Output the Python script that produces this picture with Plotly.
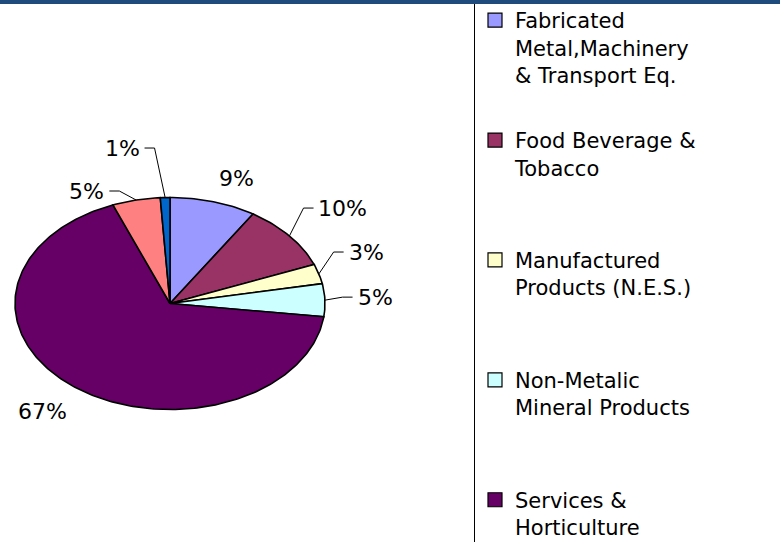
import numpy as np
import plotly.graph_objects as go

# ---------------- data ----------------
categories = [
    "Fabricated Metal,Machinery & Transport Eq.",
    "Food Beverage & Tobacco",
    "Manufactured Products (N.E.S.)",
    "Non-Metalic Mineral Products",
    "Services & Horticulture",
    "Other sector (legend cut off) A",
    "Other sector (legend cut off) B",
]
legend_labels = [
    "Fabricated<br>Metal,Machinery<br>& Transport Eq.",
    "Food Beverage &<br>Tobacco",
    "Manufactured<br>Products (N.E.S.)",
    "Non-Metalic<br>Mineral Products",
    "Services &<br>Horticulture",
    None,
    None,
]
shares = [9, 10, 3, 5, 67, 5, 1]
pct_labels = [f"{v}%" for v in shares]

# ---------------- style ----------------
colors = ["#9999FF", "#993366", "#FFFFCC", "#CCFFFF", "#660066", "#FF8080", "#0066CC"]
label_r = [1.26, 1.434, 1.355, 1.324, 1.315, 1.189, 1.499]
label_dtheta = [3.85, 0.7, -4.8, -0.8, 1.1, -14.2, -10.1]
leader = [False, True, True, True, False, True, True]

W, H = 780, 542
CX, CY, RX, RY = 170.0, 303.5, 155.0, 106.0   # pie centre / radii in pixels
FONT = "DejaVu Sans"
FS = 21          # legend font
LFS = 22         # percentage label font


def pt(theta_deg, r=1.0):
    t = np.deg2rad(theta_deg)
    return r * np.sin(t), r * np.cos(t)


fig = go.Figure()

total = float(sum(shares))
bounds = np.concatenate([[0.0], np.cumsum(shares)]) / total * 360.0

# slices
for i, cat in enumerate(categories):
    a0, a1 = bounds[i], bounds[i + 1]
    n = max(3, int(np.ceil((a1 - a0) / 1.0)) + 1)
    th = np.linspace(a0, a1, n)
    xs, ys = pt(th)
    xs = np.concatenate([[0.0], xs, [0.0]])
    ys = np.concatenate([[0.0], ys, [0.0]])
    fig.add_trace(go.Scatter(
        x=xs, y=ys, mode="lines", fill="toself", fillcolor=colors[i],
        line=dict(color="black", width=1.6), name=cat, showlegend=False,
        hoverinfo="text", text=f"{cat}: {pct_labels[i]}",
    ))

# labels + leader lines
for i in range(len(shares)):
    mid = (bounds[i] + bounds[i + 1]) / 2.0
    lx, ly = pt(mid + label_dtheta[i], label_r[i])
    fig.add_annotation(x=lx, y=ly, xref="x", yref="y", text=pct_labels[i],
                       showarrow=False, xanchor="center", yanchor="middle",
                       font=dict(family=FONT, size=LFS, color="black"))
    if leader[i]:
        ndig = len(pct_labels[i]) - 1
        wpx = LFS * (0.636 * ndig + 0.95)
        s = 1.0 if lx > 0 else -1.0
        lpx = CX + RX * lx
        end_px = lpx - s * (wpx / 2.0 + 5.0)
        elb_px = end_px - s * 10.0
        sx, sy = pt(mid, 1.0)
        fig.add_trace(go.Scatter(
            x=[sx, (elb_px - CX) / RX, (end_px - CX) / RX],
            y=[sy, ly, ly], mode="lines",
            line=dict(color="black", width=1), showlegend=False, hoverinfo="skip",
        ))

# legend entries (two-line entries get one spacer line so items are evenly spaced)
n_leg = sum(1 for l in legend_labels if l)
k = 0
for i, lab in enumerate(legend_labels):
    if not lab:
        continue
    k += 1
    nlines = lab.count("<br>") + 1
    name = lab + ("<br> " if (nlines < 3 and k < n_leg) else "")
    fig.add_trace(go.Scatter(
        x=[None], y=[None], mode="markers", name=name, legendgroup=f"g{i}",
        marker=dict(symbol="square", size=14, color=colors[i],
                    line=dict(color="black", width=1.2)),
        hoverinfo="skip",
    ))

fig.update_xaxes(range=[-CX / RX, (W - CX) / RX], visible=False, fixedrange=True)
fig.update_yaxes(range=[-(H - CY) / RY, CY / RY], visible=False, fixedrange=True)

fig.update_layout(
    width=W, height=H, margin=dict(l=0, r=0, t=0, b=0),
    paper_bgcolor="white", plot_bgcolor="white",
    showlegend=True,
    legend=dict(x=475 / W, xanchor="left", y=1, yanchor="top", valign="top",
                tracegroupgap=35, font=dict(family=FONT, size=FS, color="black"),
                bgcolor="rgba(0,0,0,0)", maxheight=1000, itemclick=False,
                itemdoubleclick=False),
    shapes=[
        dict(type="line", xref="paper", yref="paper", x0=474.5 / W, x1=474.5 / W,
             y0=0, y1=1, line=dict(color="black", width=1)),
        dict(type="rect", xref="paper", yref="paper", x0=0, x1=1,
             y0=1 - 4 / H, y1=1, fillcolor="#1F4A7C", line=dict(width=0)),
    ],
)

fig.write_html(
    "out.html",
    config={"displayModeBar": False},
    post_script="document.body.style.margin='0';document.body.style.overflow='hidden';",
)
